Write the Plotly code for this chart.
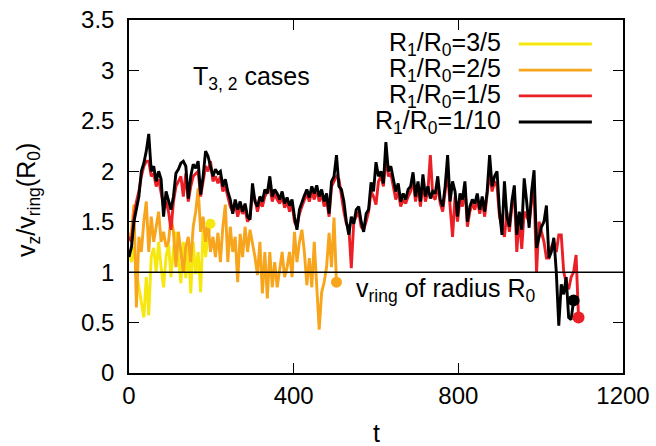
import plotly.graph_objects as go

# Sampling interval of the stored time series
DT = 6

# R1/R0 = 3/5
v_35 = [1.2, 1.1, 1.25, 1.0, 0.85, 0.72, 0.55, 0.95, 0.57, 1.15,
        1.24, 1.0, 1.3, 1.05, 0.85, 1.15, 1.28, 0.95, 1.22, 1.4,
        1.1, 0.89, 1.3, 0.94, 1.25, 0.79, 1.3, 0.98, 1.2, 0.8,
        1.42, 1.15, 1.35, 1.48]

# R1/R0 = 2/5
v_25 = [1.35, 1.4, 1.67, 0.65, 1.35, 1.2, 1.5, 1.7, 1.2, 1.55,
        1.3, 1.45, 1.6, 1.3, 1.4, 1.25, 1.3, 1.55, 1.4, 1.05,
        1.4, 1.2, 1.0, 1.25, 1.35, 1.1, 1.45, 1.6, 1.83, 1.4,
        1.55, 1.3, 1.5, 1.2, 1.35, 1.15, 1.39, 1.1, 1.45, 1.67,
        1.1, 1.45, 1.2, 1.35, 0.9, 1.38, 1.15, 1.45, 1.2, 1.42,
        1.3, 1.15, 0.97, 1.3, 0.79, 1.2, 0.74, 1.2, 0.85, 1.1,
        0.85, 1.05, 1.2, 0.95, 1.05, 1.2, 0.95, 1.4, 1.1, 1.3,
        1.42, 1.2, 0.87, 1.14, 0.85, 1.3, 0.9, 0.43, 0.8, 0.9,
        1.05, 1.39, 1.05, 1.54, 0.9]

# R1/R0 = 1/5
v_15 = [1.35, 1.3, 1.55, 1.7, 1.8, 1.95, 2.05, 2.1, 2.1, 1.95,
        1.98, 1.85, 1.92, 1.8, 1.65, 1.7, 1.6, 1.42, 1.7, 1.85,
        1.9, 1.95, 1.75, 1.98, 1.7, 1.85, 1.95, 1.98, 2.0, 1.75,
        1.9, 2.05, 2.0, 2.1, 1.9, 1.95, 1.88, 1.95, 1.8, 1.85,
        1.75, 1.65, 1.6, 1.68, 1.55, 1.65, 1.58, 1.62, 1.5, 1.55,
        1.78, 1.72, 1.6, 1.7, 1.65, 1.75, 1.8, 1.85, 1.7, 1.78,
        1.72, 1.68, 1.75, 1.64, 1.7, 1.6, 1.68, 1.5, 1.45, 1.58,
        1.65, 1.72, 1.78, 1.7, 1.8, 1.72, 1.82, 1.7, 1.78, 1.65,
        1.72, 1.55, 1.85, 1.9, 1.95, 1.92, 1.75, 1.6, 1.48, 1.45,
        1.04, 1.5, 1.55, 1.6, 1.45, 1.42, 1.5, 1.6, 1.8, 1.75,
        1.67, 1.9, 1.95, 1.85, 2.15, 1.95, 1.98, 1.85, 1.72, 1.8,
        1.65, 1.72, 1.68, 1.75, 1.8, 1.92, 1.7, 1.85, 1.65, 1.9,
        1.7, 1.8, 2.16, 1.75, 1.72, 1.88, 1.68, 1.6, 1.8, 2.0,
        1.65, 1.35, 1.75, 1.5, 1.72, 1.65, 1.85, 1.45, 1.6, 1.68,
        1.62, 1.72, 1.58, 1.7, 1.55, 1.75, 2.0, 1.8, 1.9, 1.85,
        1.55, 1.45, 1.35, 1.6, 1.4, 1.65, 1.8, 1.2, 1.55, 1.23,
        1.6, 1.55, 1.5, 1.7, 1.8, 1.0, 1.5, 1.4, 1.3, 1.14,
        1.14, 1.25, 1.3, 1.2, 1.37, 1.37, 1.0, 0.9, 0.83, 0.95,
        1.0, 1.17, 0.55]

# R1/R0 = 1/10
v_110 = [1.15, 1.25, 1.5, 1.62, 1.75, 2.0, 2.08, 2.2, 2.37, 2.0,
         2.05, 1.9, 2.0, 1.92, 1.55, 1.8, 1.72, 1.62, 1.75, 1.98,
         2.02, 2.08, 2.1, 2.05, 1.73, 1.95, 2.07, 2.03, 2.1, 1.77,
         1.95, 2.2, 2.15, 2.05, 1.95, 2.02, 1.98, 2.0, 1.85, 1.92,
         1.8, 1.72, 1.58, 1.72, 1.62, 1.7, 1.6, 1.68, 1.55, 1.52,
         1.88, 1.7, 1.65, 1.75, 1.7, 1.82, 1.78, 1.95, 1.75, 1.82,
         1.78, 1.72, 1.8, 1.68, 1.74, 1.66, 1.72, 1.55, 1.42, 1.62,
         1.7, 1.76, 1.82, 1.74, 1.85, 1.78, 1.86, 1.75, 1.82, 1.7,
         1.78, 1.58, 1.9, 1.95, 2.16, 1.85, 1.82, 1.7, 1.5, 1.37,
         1.55, 1.48, 1.62, 1.65, 1.5, 1.4, 1.58, 1.62, 1.89, 1.8,
         2.09, 1.95, 2.0, 1.88, 2.29, 2.0, 2.05, 1.92, 1.8, 1.88,
         1.7, 1.78, 1.72, 1.82, 1.85, 1.99, 1.75, 1.9, 1.7, 1.97,
         1.75, 1.85, 1.73, 1.8, 1.78, 1.95, 1.72, 1.65, 1.85, 2.16,
         1.7, 1.9, 1.8, 1.55, 1.78, 1.72, 1.9, 1.5, 1.65, 1.72,
         1.68, 1.78, 1.62, 1.75, 1.6, 1.8, 2.16, 1.85, 1.95, 2.0,
         1.6, 1.37, 1.9, 1.55, 1.45, 1.7, 1.86, 1.37, 1.6, 1.42,
         1.93, 1.7, 1.44, 1.8, 2.01, 1.24, 1.35, 1.45, 1.5, 1.66,
         1.14, 1.2, 1.34, 1.0, 0.47, 0.88, 0.78, 0.95, 0.55, 0.53,
         0.72]

names = ["R<sub>1</sub>/R<sub>0</sub>=3/5", "R<sub>1</sub>/R<sub>0</sub>=2/5",
         "R<sub>1</sub>/R<sub>0</sub>=1/5", "R<sub>1</sub>/R<sub>0</sub>=1/10"]
series = [v_35, v_25, v_15, v_110]
colors = ["#f6e80e", "#f8a51e", "#eb2027", "#000000"]
end_sizes = [10, 11, 12, 12]

x_ticks = [0, 400, 800, 1200]
y_ticks = [0, 0.5, 1, 1.5, 2, 2.5, 3, 3.5]

FONT = "Liberation Sans, Arial, sans-serif"
FS_TEXT = 25
FS_TICK = 24

fig = go.Figure()

for vals, col in zip(series, colors):
    t = [i * DT for i in range(len(vals))]
    fig.add_trace(go.Scatter(x=t, y=vals, mode="lines",
                             line=dict(color=col, width=2.9),
                             showlegend=False, hoverinfo="skip"))

# filled dot at the final sample of each run
for vals, col, sz in zip(series, colors, end_sizes):
    fig.add_trace(go.Scatter(x=[(len(vals) - 1) * DT], y=[vals[-1]], mode="markers",
                             marker=dict(color=col, size=sz, line=dict(width=0)),
                             showlegend=False, hoverinfo="skip"))

# reference level v_z = v_ring(R0)
fig.add_shape(type="line", xref="paper", x0=0, x1=1, yref="y", y0=1, y1=1,
              line=dict(color="black", width=1.5), layer="above")

# key: label on the left, line sample on the right
key_y = [0.932, 0.858, 0.785, 0.711]
for name, col, ky in zip(names, colors, key_y):
    fig.add_annotation(xref="paper", yref="paper", x=0.757, y=ky, text=name,
                       showarrow=False, xanchor="right", yanchor="middle",
                       font=dict(family=FONT, size=FS_TEXT, color="black"))
    fig.add_shape(type="line", xref="paper", yref="paper", x0=0.789, x1=0.937,
                  y0=ky, y1=ky, line=dict(color=col, width=2.8))

fig.add_annotation(xref="paper", yref="paper", x=0.125, y=0.835,
                   text="T<sub>3, 2</sub> cases", showarrow=False,
                   xanchor="left", yanchor="middle",
                   font=dict(family=FONT, size=FS_TEXT, color="black"))
fig.add_annotation(xref="paper", yref="paper", x=0.455, y=0.235,
                   text="v<sub>ring</sub> of radius R<sub>0</sub>", showarrow=False,
                   xanchor="left", yanchor="middle",
                   font=dict(family=FONT, size=FS_TEXT, color="black"))

# axis titles
fig.add_annotation(xref="paper", yref="paper", x=0.5, y=0, yshift=-60,
                   text="t", showarrow=False, xanchor="center", yanchor="middle",
                   font=dict(family=FONT, size=FS_TEXT, color="black"))
fig.add_annotation(xref="paper", yref="paper", x=0, xshift=-101, y=0.49,
                   text="v<sub>z</sub>/v<sub>ring</sub>(R<sub>0</sub>)", textangle=-90,
                   showarrow=False, xanchor="center", yanchor="middle",
                   font=dict(family=FONT, size=FS_TEXT, color="black"))

axis_common = dict(showline=True, linecolor="black", linewidth=1.5, mirror="allticks",
                   ticks="inside", ticklen=10, tickwidth=1.2, tickcolor="black",
                   showgrid=False, zeroline=False, automargin=False,
                   tickfont=dict(family=FONT, size=FS_TICK, color="black"))

fig.update_xaxes(range=[0, 1200], tickvals=x_ticks, ticktext=[str(v) for v in x_ticks],
                 ticklabelstandoff=0, **axis_common)
fig.update_yaxes(range=[0, 3.5], tickvals=y_ticks, ticktext=[f"{v:g}" for v in y_ticks],
                 ticklabelstandoff=8, **axis_common)

fig.update_layout(width=656, height=446, margin=dict(l=129, r=33, t=20, b=73),
                  plot_bgcolor="white", paper_bgcolor="white", showlegend=False)

fig.write_html("out.html")
